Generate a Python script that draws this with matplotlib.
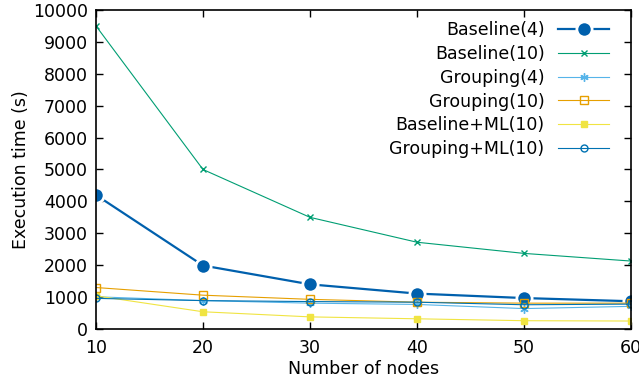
import matplotlib
matplotlib.use("Agg")
import matplotlib.pyplot as plt

nodes = [10, 20, 30, 40, 50, 60]
baseline4 = [4200, 1990, 1400, 1110, 970, 870]
baseline10 = [9500, 5000, 3500, 2720, 2370, 2130]
grouping4 = [1010, 890, 810, 770, 640, 710]
grouping10 = [1300, 1060, 930, 840, 810, 810]
baseline_ml10 = [1040, 540, 380, 320, 260, 250]
grouping_ml10 = [960, 890, 860, 840, 760, 780]

labels = ["Baseline(4)", "Baseline(10)", "Grouping(4)", "Grouping(10)",
          "Baseline+ML(10)", "Grouping+ML(10)"]

plt.rcParams['font.family'] = ['DejaVu Sans']
plt.rcParams['font.size'] = 12.5

fig = plt.figure(figsize=(6.39, 3.87), dpi=100)
ax = fig.add_axes([96/639, 1-329/387, (631-96)/639, (329-10)/387])

ax.plot(nodes, baseline4, color='#0060ad', lw=1.6, marker='o', ms=11,
        mfc='#0060ad', mec='white', mew=2, label=labels[0])
ax.plot(nodes, baseline10, color='#009e73', lw=0.8, marker='x', ms=5,
        mew=1, label=labels[1])
ax.plot(nodes, grouping4, color='#56b4e9', lw=0.8, marker=(6, 2, 0), ms=6,
        mew=1, label=labels[2])
ax.plot(nodes, grouping10, color='#e69f00', lw=0.8, marker='s', ms=6,
        mfc='none', mew=1, label=labels[3])
ax.plot(nodes, baseline_ml10, color='#f0e442', lw=0.8, marker='s', ms=5,
        mew=1, label=labels[4])
ax.plot(nodes, grouping_ml10, color='#0072b2', lw=0.8, marker='o', ms=5,
        mfc='none', mew=1, label=labels[5])

ax.set_xlim(10, 60)
ax.set_ylim(0, 10000)
ax.set_xticks(nodes)
ax.set_yticks(range(0, 10001, 1000))
ax.tick_params(direction='in', top=True, right=True, length=5, width=1)
ax.tick_params(axis='x', pad=7)
ax.tick_params(axis='y', pad=6)
for s in ax.spines.values():
    s.set_linewidth(1.2)
ax.set_xlabel("Number of nodes", labelpad=2)
ax.set_ylabel("Execution time (s)", labelpad=2)

ax.legend(loc='upper right', markerfirst=False, frameon=False,
          handlelength=2.9, handletextpad=0.8, labelspacing=0.33,
          borderaxespad=0.2, bbox_to_anchor=(0.978, 0.997))

fig.savefig("out.png", dpi=100)
